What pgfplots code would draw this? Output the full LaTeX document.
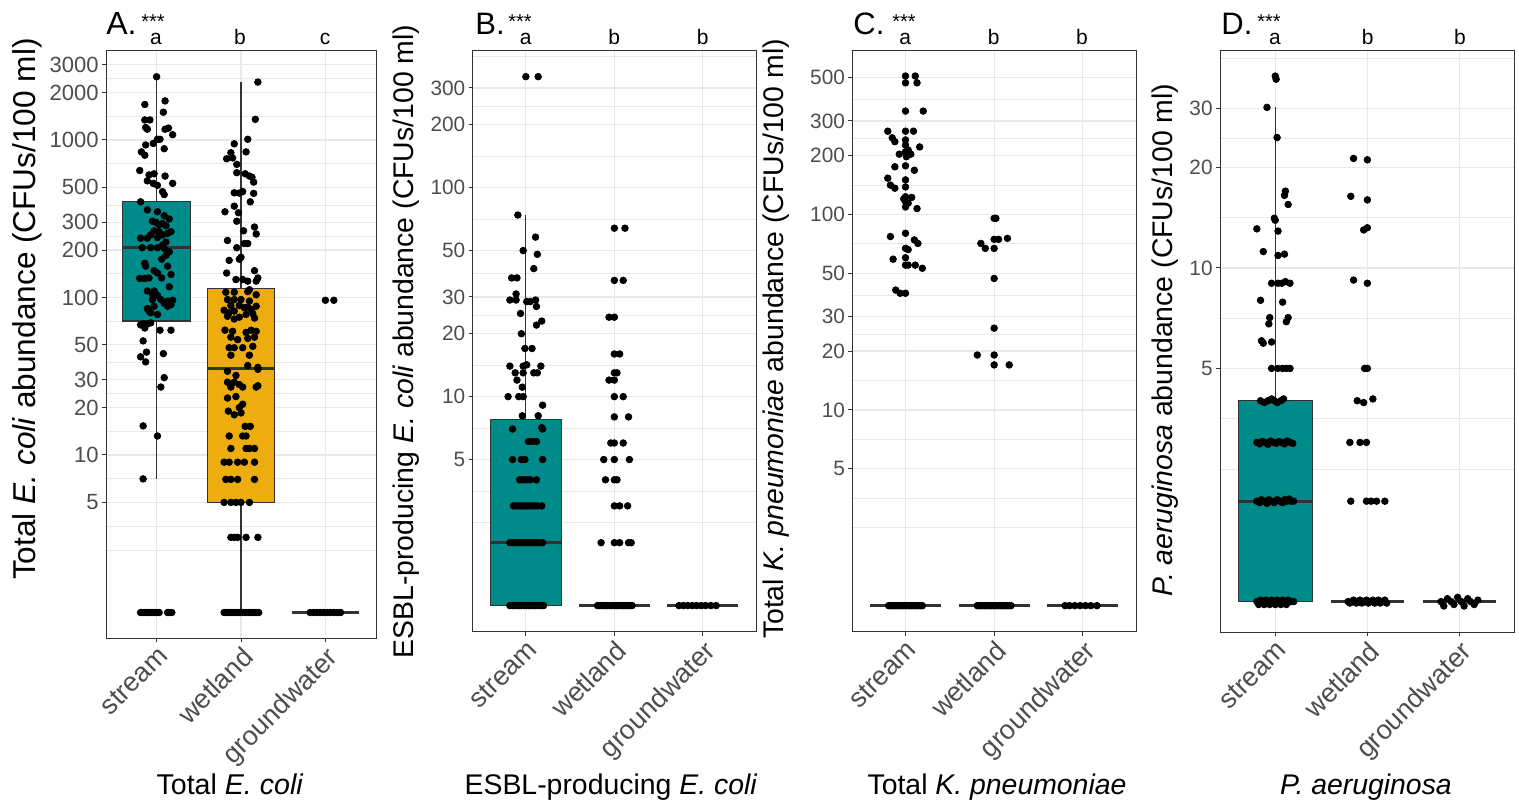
\documentclass[border=0pt]{standalone}
\usepackage{fontspec}
\setmainfont{Liberation Sans}
\usepackage{pgfplots}
\pgfplotsset{compat=1.18}
\definecolor{tealbox}{RGB}{0,139,139}
\definecolor{goldbox}{RGB}{238,173,14}
\definecolor{tickgray}{RGB}{77,77,77}
\definecolor{framegray}{RGB}{51,51,51}
\definecolor{gridgray}{RGB}{232,232,232}
\pgfplotsset{
  mypanel/.style={
    scale only axis, xmin=-0.6, xmax=2.6,
    xtick={0,1,2}, xticklabels={stream,wetland,groundwater},
    x tick label style={rotate=45, anchor=north east, font=\fontsize{13.5}{15}\selectfont, text=tickgray, inner sep=1pt},
    y tick label style={font=\fontsize{10.4}{12}\selectfont, text=tickgray, inner sep=1.5pt},
    axis line style={draw=framegray, line width=0.5pt},
    tick style={framegray, line width=0.5pt},
    major tick length=2pt, minor tick length=0pt,
    tick align=outside, xtick pos=bottom, ytick pos=left,
    xmajorgrids, ymajorgrids, yminorgrids,
    major grid style={gridgray, line width=0.6pt},
    minor grid style={gridgray, line width=0.3pt},
  },
  pts/.style={only marks, mark=*, mark size=1.65pt, black},
  whisk/.style={draw=framegray, line width=0.6pt, mark=none},
  boxs/.style={draw=framegray, line width=0.6pt, mark=none},
  med/.style={draw=framegray, line width=1.4pt, mark=none},
}
\begin{document}
\begin{tikzpicture}
\useasboundingbox (0,0) rectangle (759.5pt,400pt);

% ---------------- Panel A ----------------
\begin{axis}[ymode=log, mypanel, at={(53pt,81pt)}, anchor=south west, width=135pt, height=294pt,
  ymin=0.689, ymax=3725,
  ytick={5,10,20,30,50,100,200,300,500,1000,2000,3000},
  yticklabels={5,10,20,30,50,100,200,300,500,1000,2000,3000},
  minor ytick={2.5,3.54,7.07,14.14,24.49,38.73,70.71,141.4,244.9,387.3,707.1,1414,2449},
  y tick label style={font=\fontsize{11}{13}\selectfont}]
\addplot[whisk] coordinates {(0,405) (0,2520)};
\addplot[whisk] coordinates {(0,71) (0,7.05)};
\addplot[boxs, fill=tealbox] coordinates {(-0.4,71) (0.4,71) (0.4,405) (-0.4,405)} --cycle;
\addplot[med] coordinates {(-0.4,207) (0.4,207)};
\addplot[whisk] coordinates {(1,114) (1,2330)};
\addplot[whisk] coordinates {(1,5) (1,1)};
\addplot[boxs, fill=goldbox] coordinates {(0.6,5) (1.4,5) (1.4,114) (0.6,114)} --cycle;
\addplot[med] coordinates {(0.6,35.5) (1.4,35.5)};
\addplot[med] coordinates {(1.6,1) (2.4,1)};
\addplot[pts] coordinates {(0.00,2520)(-0.14,1680)(0.10,1770)(0.08,1500)(-0.14,1340)(-0.08,1340)(-0.13,1200)(-0.11,1170)(0.14,1190)(0.10,1170)(0.19,1080)(0.01,1010)(0.04,1010)(-0.13,930)(-0.04,950)(0.09,880)(-0.18,840)(-0.14,800)(-0.20,640)(-0.09,600)(-0.03,610)(0.10,590)(-0.11,550)(-0.04,530)(0.01,515)(0.19,530)(0.07,470)(0.09,450)(-0.19,405)(-0.11,360)(0.01,350)(0.09,330)(-0.05,305)(-0.01,300)(0.03,290)(0.07,295)(0.11,285)(0.15,315)(-0.03,265)(0.03,262)(0.07,250)(0.13,255)(0.17,262)(-0.07,250)(-0.19,238)(-0.11,238)(0.01,240)(0.11,225)(0.07,215)(-0.17,207)(-0.07,207)(0.01,207)(0.09,205)(0.11,185)(0.15,195)(0.06,175)(-0.14,165)(-0.13,158)(0.13,158)(-0.03,148)(0.01,143)(-0.09,133)(0.06,133)(-0.20,132)(-0.14,132)(0.17,140)(0.15,117)(-0.11,110)(-0.03,110)(-0.05,105)(0.01,103)(-0.05,97)(0.05,97)(0.13,95)(0.19,96)(0.17,90)(-0.11,85)(-0.07,80)(0.01,78)(-0.03,88)(-0.09,82)(0.09,92)(0.13,88)(-0.15,68)(-0.19,67)(-0.11,68)(-0.07,69)(-0.14,64)(0.04,62)(0.17,62)(-0.16,53)(-0.12,45)(-0.19,42)(-0.13,39)(0.08,44)(0.09,31)(0.05,27)(-0.16,15.3)(0.01,13.2)(-0.16,7.05)
(-0.19,1)(-0.16,1)(-0.13,1)(-0.11,1)(-0.08,1)(-0.05,1)(-0.02,1)(0.00,1)(0.03,1)(0.13,1)(0.15,1)(0.18,1)};
\addplot[pts] coordinates {(1.20,2330)(1.17,1352)(1.08,1010)(0.92,945)(1.06,840)(0.88,830)(0.90,770)(0.83,760)(0.95,700)(0.95,620)(1.05,610)(1.10,590)(1.13,580)(1.15,540)(1.02,470)(0.98,460)(0.92,462)(1.15,458)(1.11,405)(0.92,380)(0.81,350)(0.97,345)(0.95,305)(1.03,265)(1.16,280)(1.18,253)(0.84,230)(1.08,220)(1.04,220)(0.95,207)(1.00,180)(0.98,175)(0.86,172)(1.16,148)(0.83,143)(0.94,130)(1.02,130)(1.08,127)(1.20,133)(1.18,127)(0.82,108)(0.92,108)(1.08,109)(1.18,104)(1.10,112)(0.84,97)(0.92,97)(1.00,97)(1.10,95)(0.88,89)(0.98,89)(1.08,87)(1.18,88)(0.80,83)(0.92,82)(1.12,84)(1.14,79)(1.04,86)(0.86,80)(0.84,76)(0.92,73)(0.98,75)(1.06,78)(1.16,74)(0.81,62)(0.90,61)(1.06,60)(1.12,62)(1.18,61)(0.88,56)(0.96,54)(1.08,55)(1.16,56)(0.92,48)(1.02,48)(1.14,49)(0.86,48)(0.88,43)(1.10,43)(1.08,37)(1.20,36)(1.20,35)(0.84,34)(0.94,32)(0.84,29)(0.92,29)(0.98,28)(0.88,27)(1.02,27)(1.18,27)(1.20,27.5)(0.84,23)(0.94,23.5)(1.02,21)(0.98,20)(0.85,19)(0.92,18)(1.00,18.5)(1.11,15.2)(1.05,15.2)(0.86,13.2)(1.02,13.2)(1.06,13.2)(0.88,11)(1.06,11)(1.16,11)(1.10,11)(0.80,9)(0.86,9)(1.04,9)(1.16,9)(0.96,9)(0.82,7)(0.88,7)(0.96,7)(1.16,7)(0.80,5)(0.88,5)(0.94,5)(1.00,5)(1.10,5)(0.88,3)(0.92,3)(0.96,3)(1.06,3)(1.20,3)
(0.80,1)(0.83,1)(0.86,1)(0.88,1)(0.91,1)(0.94,1)(0.97,1)(1.00,1)(1.03,1)(1.06,1)(1.09,1)(1.12,1)(1.15,1)(1.18,1)(1.21,1)};
\addplot[pts] coordinates {(2.00,96)(2.10,96)(1.82,1)(1.86,1)(1.90,1)(1.94,1)(1.98,1)(2.02,1)(2.06,1)(2.10,1)(2.14,1)(2.18,1)};
\end{axis}

% ---------------- Panel B ----------------
\begin{axis}[ymode=log, mypanel, at={(236.35pt,84.15pt)}, anchor=south west, width=141.65pt, height=290.85pt,
  ymin=0.75, ymax=456,
  ytick={5,10,20,30,50,100,200,300},
  yticklabels={5,10,20,30,50,100,200,300},
  minor ytick={2.5,3.54,7.07,14.14,24.49,38.73,70.71,141.4,244.9,424.3}]
\addplot[whisk] coordinates {(0,7.8) (0,74)};
\addplot[boxs, fill=tealbox] coordinates {(-0.4,1) (0.4,1) (0.4,7.8) (-0.4,7.8)} --cycle;
\addplot[med] coordinates {(-0.4,2) (0.4,2)};
\addplot[med] coordinates {(0.6,1) (1.4,1)};
\addplot[med] coordinates {(1.6,1) (2.4,1)};
\addplot[pts] coordinates {(0.00,340)(0.14,340)(-0.09,74)(0.11,58)(-0.03,50)(0.13,48)(0.09,41)(-0.16,37)(-0.10,37)(-0.11,31)(-0.18,29)(-0.11,29)(0.01,28.5)(0.11,29)(0.05,28.5)(0.12,27)(-0.06,25)(0.18,23)(0.12,22)(-0.05,20)(-0.01,17)(0.07,17)(-0.18,14)(-0.12,13)(-0.03,14)(0.01,14.2)(0.17,14)(0.09,13)(0.13,13)(-0.03,13)(-0.10,12)(-0.04,11.1)(-0.20,10)(-0.08,10)(-0.03,10)(0.19,9.1)(-0.04,8.1)(0.14,8.1)(-0.15,7)(0.19,7)(0.18,7.1)(0.03,6.1)(0.12,6.1)(0.07,6.1)(-0.15,5)(-0.05,5)(-0.01,5)(0.19,5)
(-0.07,4)(-0.04,4)(-0.01,4)(0.02,4)(0.05,4)(0.12,4)
(-0.14,3)(-0.11,3)(-0.08,3)(-0.05,3)(-0.02,3)(0.01,3)(0.04,3)(0.07,3)(0.10,3)(0.13,3)(0.18,3)
(-0.18,2)(-0.15,2)(-0.12,2)(-0.09,2)(-0.06,2)(-0.03,2)(0.00,2)(0.03,2)(0.06,2)(0.09,2)(0.12,2)(0.15,2)(0.19,2)
(-0.18,1)(-0.15,1)(-0.13,1)(-0.10,1)(-0.07,1)(-0.05,1)(-0.02,1)(0.01,1)(0.03,1)(0.06,1)(0.09,1)(0.11,1)(0.14,1)(0.17,1)(0.20,1)};
\addplot[pts] coordinates {(1.00,64)(1.12,64)(1.00,36)(1.10,36)(0.94,24)(1.00,24)(1.00,16)(1.06,16)(1.00,13)(1.03,13)(0.94,12)(1.00,12)(1.00,10)(1.10,10)(1.00,8)(1.16,8)(0.96,6)(1.00,6)(1.10,6)(0.88,5)(1.00,5)(1.17,5)(0.90,4)(1.00,4)(1.03,4)(1.00,3)(1.06,3)(1.15,3)(0.85,2)(1.00,2)(1.06,2)(1.16,2)(1.19,2)
(0.81,1)(0.83,1)(0.85,1)(0.88,1)(0.90,1)(0.92,1)(0.95,1)(0.97,1)(1.00,1)(1.02,1)(1.04,1)(1.07,1)(1.09,1)(1.11,1)(1.14,1)(1.16,1)(1.18,1)(1.20,1)};
\addplot[pts] coordinates {(1.73,1)(1.78,1)(1.83,1)(1.88,1)(1.93,1)(1.98,1)(2.03,1)(2.09,1)(2.15,1)};
\end{axis}

% ---------------- Panel C ----------------
\begin{axis}[ymode=log, mypanel, at={(426.15pt,84.15pt)}, anchor=south west, width=141.85pt, height=290.5pt,
  ymin=0.736, ymax=686,
  ytick={5,10,20,30,50,100,200,300,500},
  yticklabels={5,10,20,30,50,100,200,300,500},
  minor ytick={2.5,3.54,7.07,14.14,24.49,38.73,70.71,141.4,244.9,387.3}]
\addplot[med] coordinates {(-0.4,1) (0.4,1)};
\addplot[med] coordinates {(0.6,1) (1.4,1)};
\addplot[med] coordinates {(1.6,1) (2.4,1)};
\addplot[pts] coordinates {(0.00,509)(0.11,509)(0.00,470)(0.13,470)(0.00,337)(0.20,337)(-0.20,266)(0.09,266)(0.00,266)(-0.15,246)(-0.12,235)(0.00,240)(0.00,226)(0.16,221)(-0.07,203)(0.00,209)(0.06,203)(0.03,213)(0.01,197)(-0.12,175)(0.00,177)(0.10,168)(-0.20,153)(-0.17,141)(-0.12,136)(0.00,150)(0.00,138)(0.00,123)(0.00,116)(-0.02,120)(0.07,122)(0.13,107)(0.03,114)(0.00,109)(-0.17,77)(0.00,80)(0.10,74)(0.14,71)(0.00,67)(0.03,66)(-0.14,59)(0.00,60)(0.00,55)(0.03,55)(0.11,55)(0.19,53)(-0.11,41)(-0.06,39.5)(0.00,39.5)
(-0.19,1)(-0.17,1)(-0.15,1)(-0.13,1)(-0.11,1)(-0.09,1)(-0.07,1)(-0.05,1)(-0.03,1)(-0.01,1)(0.01,1)(0.03,1)(0.05,1)(0.07,1)(0.09,1)(0.11,1)(0.13,1)(0.15,1)(0.17,1)(0.19,1)};
\addplot[pts] coordinates {(1.00,95.4)(1.02,95.4)(0.85,71)(0.90,67)(1.00,74.5)(1.05,74.5)(1.15,75.4)(1.00,67)(1.00,47)(1.00,26.2)(0.81,19.1)(1.00,19.1)(1.00,17)(1.17,17)
(0.81,1)(0.83,1)(0.85,1)(0.87,1)(0.89,1)(0.91,1)(0.93,1)(0.95,1)(0.97,1)(0.99,1)(1.01,1)(1.03,1)(1.05,1)(1.07,1)(1.09,1)(1.11,1)(1.13,1)(1.15,1)(1.17,1)(1.19,1)};
\addplot[pts] coordinates {(1.80,1)(1.85,1)(1.91,1)(1.97,1)(2.03,1)(2.09,1)(2.16,1)};
\end{axis}

% ---------------- Panel D ----------------
\begin{axis}[ymode=log, mypanel, at={(610pt,83.85pt)}, anchor=south west, width=147.35pt, height=290.8pt,
  ymin=0.809, ymax=44.8,
  ytick={5,10,20,30},
  yticklabels={5,10,20,30},
  minor ytick={2.5,3.54,7.07,14.14,24.49,42.43}]
\addplot[whisk] coordinates {(0,4) (0,30.3)};
\addplot[boxs, fill=tealbox] coordinates {(-0.4,1) (0.4,1) (0.4,4) (-0.4,4)} --cycle;
\addplot[med] coordinates {(-0.4,2) (0.4,2)};
\addplot[med] coordinates {(0.6,1) (1.4,1)};
\addplot[med] coordinates {(1.6,1) (2.4,1)};
\addplot[pts] coordinates {(0.00,37.6)(0.01,36.8)(-0.09,30.3)(0.02,24.6)(0.11,17.0)(0.10,16.5)(0.14,15.5)(-0.01,14.1)(0.00,13.9)(-0.20,13.1)(0.03,12.9)(-0.13,11.2)(0.03,10.9)(0.10,11.0)(-0.04,9.0)(0.03,9.0)(0.07,9.0)(0.11,9.1)(0.16,9.0)(-0.16,8.0)(0.08,7.9)(-0.06,7.1)(-0.07,6.8)(0.12,6.9)(0.14,7.1)(-0.15,6.05)(-0.13,5.95)(-0.04,6.0)
(-0.04,5)(0.03,5)(0.08,5)(0.12,5)(0.16,5)
(-0.16,4)(-0.12,3.95)(-0.08,4)(-0.04,4.05)(-0.01,4)(0.02,3.95)(0.06,4)(0.09,4.05)
(-0.20,3)(-0.17,2.97)(-0.14,3.02)(-0.11,3)(-0.08,2.96)(-0.05,3.03)(-0.02,3)(0.01,2.98)(0.04,3.02)(0.07,3)(0.10,2.97)(0.13,3.03)(0.16,3)(0.19,2.98)
(-0.20,2)(-0.17,1.98)(-0.15,2.02)(-0.12,2)(-0.09,1.97)(-0.07,2.02)(-0.04,2)(-0.01,1.98)(0.02,2.02)(0.05,2)(0.08,1.98)(0.10,2.02)(0.13,2)(0.15,2.03)(0.17,2)(0.20,2)
(-0.20,1)(-0.18,0.98)(-0.16,1.01)(-0.14,1)(-0.12,0.98)(-0.10,1.01)(-0.08,1)(-0.06,0.98)(-0.04,1.01)(-0.02,1)(0.00,0.98)(0.02,1.01)(0.04,1)(0.06,0.98)(0.08,1.01)(0.10,1)(0.12,0.98)(0.14,1.01)(0.17,1)(0.20,1)};
\addplot[pts] coordinates {(0.85,21.3)(1.00,21.1)(0.82,16.4)(1.00,16.0)(0.96,13.0)(1.00,13.2)(0.85,9.2)(1.00,9.0)(0.97,5)(1.00,5)(0.89,4)(0.96,3.95)(1.06,4.05)(0.81,3)(0.92,3)(0.99,3)(0.82,2)(0.99,2)(1.04,2)(1.10,2)(1.19,2)
(0.79,1)(0.81,0.99)(0.83,1)(0.85,1.01)(0.88,0.99)(0.90,1)(0.92,1.01)(0.94,0.99)(0.97,1)(0.99,1.01)(1.01,0.99)(1.03,1)(1.06,1.01)(1.08,0.99)(1.10,1)(1.12,1.01)(1.14,0.99)(1.17,1)(1.19,1.01)(1.21,0.99)};
\addplot[pts] coordinates {(1.80,1)(1.83,0.97)(1.87,1.02)(1.91,1)(1.94,0.98)(1.98,1.03)(2.02,1)(2.05,0.97)(2.09,1.02)(2.12,1)(2.16,0.98)(2.20,1.01)};
\end{axis}

% ---------------- Text ----------------
\node[anchor=base west, inner sep=0pt, font=\fontsize{16}{18}\selectfont] at (53pt,382.5pt) {A.};
\node[anchor=base west, inner sep=0pt, font=\fontsize{15.5}{18}\selectfont] at (237.5pt,382.5pt) {B.};
\node[anchor=base west, inner sep=0pt, font=\fontsize{15.5}{18}\selectfont] at (426.5pt,382.5pt) {C.};
\node[anchor=base west, inner sep=0pt, font=\fontsize{15.5}{18}\selectfont] at (610.5pt,382.5pt) {D.};
\foreach \x in {70.5,254,446,628.5} {
  \node[anchor=base west, inner sep=0pt, font=\fontsize{10}{12}\selectfont] at (\x pt,385.5pt) {***};
}
\foreach \x/\t in {78/a,120/b,162.5/c,262.85/a,307.15/b,351.35/b,452.65/a,496.85/b,541/b,637.5/a,683.85/b,730/b} {
  \node[anchor=base, inner sep=0pt, font=\fontsize{10.5}{12}\selectfont] at (\x pt,377.5pt) {\t};
}
\node[rotate=90, anchor=base, inner sep=0pt, font=\fontsize{15.8}{18}\selectfont] at (17.5pt,245.5pt) {Total \textit{E. coli} abundance (CFUs/100 ml)};
\node[rotate=90, anchor=base, inner sep=0pt, font=\fontsize{14.2}{17}\selectfont] at (206.5pt,229.25pt) {ESBL-producing \textit{E. coli} abundance (CFUs/100 ml)};
\node[rotate=90, anchor=base, inner sep=0pt, font=\fontsize{14.2}{17}\selectfont] at (391.5pt,230.5pt) {Total \textit{K. pneumoniae} abundance (CFUs/100 ml)};
\node[rotate=90, anchor=base, inner sep=0pt, font=\fontsize{14.2}{17}\selectfont] at (586pt,230pt) {\textit{P. aeruginosa} abundance (CFUs/100 ml)};
\node[anchor=base, inner sep=0pt, font=\fontsize{14.3}{17}\selectfont] at (115pt,3pt) {Total \textit{E. coli}};
\node[anchor=base, inner sep=0pt, font=\fontsize{14.2}{17}\selectfont] at (305.5pt,3pt) {ESBL-producing \textit{E. coli}};
\node[anchor=base, inner sep=0pt, font=\fontsize{14.2}{17}\selectfont] at (498.5pt,3pt) {Total \textit{K. pneumoniae}};
\node[anchor=base, inner sep=0pt, font=\fontsize{14.2}{17}\selectfont] at (683pt,3pt) {\textit{P. aeruginosa}};
\end{tikzpicture}
\end{document}
